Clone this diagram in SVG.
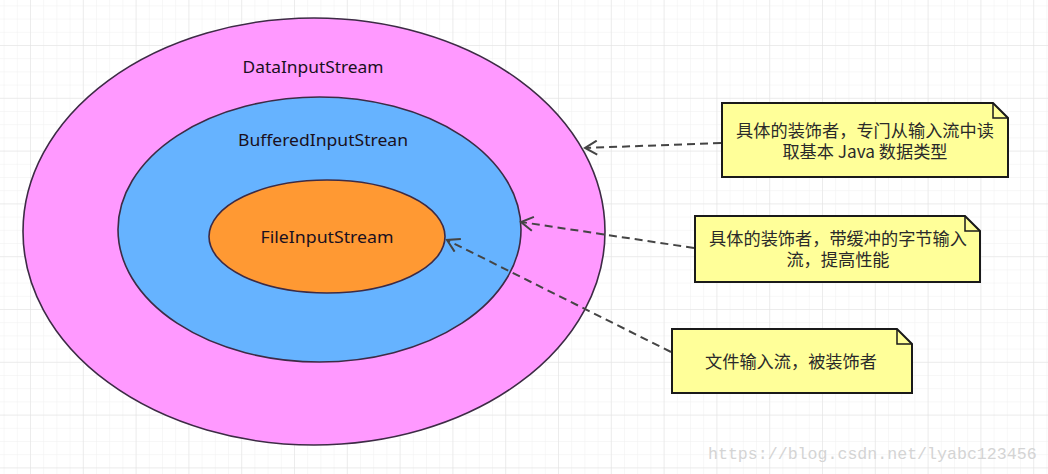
<svg xmlns="http://www.w3.org/2000/svg" width="1048" height="474" viewBox="0 0 1048 474">
<style>
.ell{stroke:#3d2b45;stroke-width:1.6}
.lbl{font-family:"Noto Sans","Noto Sans CJK SC",sans-serif;font-size:17px;fill:#1a1020;text-anchor:middle}
.note{fill:#ffff99;stroke:#1a1a1a;stroke-width:2}
.fold{fill:none;stroke:#1a1a1a;stroke-width:1.5}
.ntx{font-family:"Noto Sans CJK SC","Noto Sans",sans-serif;font-size:17.2px;fill:#2a2a2a;text-anchor:middle}
.con{fill:none;stroke:#444;stroke-width:2;stroke-dasharray:8 5}
</style>
<defs>
<pattern id="minor" width="13.2" height="13.2" patternUnits="userSpaceOnUse" x="30" y="45">
<path d="M0,0 V13.2 M0,0 H13.2" fill="none" stroke="#f0f0f0" stroke-width="1"/>
</pattern>
<pattern id="major" width="52.8" height="52.8" patternUnits="userSpaceOnUse" x="30" y="45">
<path d="M0,0 V52.8 M0,0 H52.8" fill="none" stroke="#e2e2e2" stroke-width="1"/>
</pattern>
<marker id="arr" markerWidth="16" markerHeight="16" refX="14" refY="8" orient="auto" markerUnits="userSpaceOnUse">
<path d="M2,1 L14,8 L2,15" fill="none" stroke="#444" stroke-width="2"/>
</marker>
</defs>
<rect width="1048" height="474" fill="#ffffff"/>
<rect width="1048" height="474" fill="url(#minor)"/>
<rect width="1048" height="474" fill="url(#major)"/>

<g id="DataInputStream">
<ellipse class="ell" cx="314" cy="231.5" rx="291" ry="213.5" fill="#ff99ff"/>
<text class="lbl" x="313" y="73" textLength="141" lengthAdjust="spacingAndGlyphs">DataInputStream</text>
</g>
<g id="BufferedInputStrean">
<ellipse class="ell" cx="319.5" cy="229.5" rx="201.5" ry="132.5" fill="#66b3ff"/>
<text class="lbl" x="323" y="146" textLength="170" lengthAdjust="spacingAndGlyphs">BufferedInputStrean</text>
</g>
<g id="FileInputStream">
<ellipse class="ell" cx="327" cy="236.5" rx="118" ry="56.5" fill="#ff9933"/>
<text class="lbl" x="327" y="243" textLength="133" lengthAdjust="spacingAndGlyphs">FileInputStream</text>
</g>

<g id="note1">
<path class="note" d="M722,103 H993 L1008,118 V177 H722 Z"/>
<path class="fold" d="M993,103 V118 H1008"/>
<text class="ntx"><tspan x="865" y="136.5">具体的装饰者，专门从输入流中读</tspan><tspan x="865" y="158">取基本 Java 数据类型</tspan></text>
</g>
<g id="note2">
<path class="note" d="M695,216 H965 L980,231 V282 H695 Z"/>
<path class="fold" d="M965,216 V231 H980"/>
<text class="ntx"><tspan x="838" y="244.5">具体的装饰者，带缓冲的字节输入</tspan><tspan x="838" y="266">流，提高性能</tspan></text>
</g>
<g id="note3">
<path class="note" d="M672,329 H897 L912,344 V393 H672 Z"/>
<path class="fold" d="M897,329 V344 H912"/>
<text class="ntx" x="791" y="368">文件输入流，被装饰者</text>
</g>

<g id="connectors">
<path class="con" d="M721,143 L585,148" marker-end="url(#arr)"/>
<path class="con" d="M694,248 L521,222" marker-end="url(#arr)"/>
<path class="con" d="M671,352 L447,240" marker-end="url(#arr)"/>
</g>

<text x="708" y="459" font-family="Liberation Mono, monospace" font-size="16.6" fill="#d4d4d4">https://blog.csdn.net/lyabc123456</text>
</svg>
